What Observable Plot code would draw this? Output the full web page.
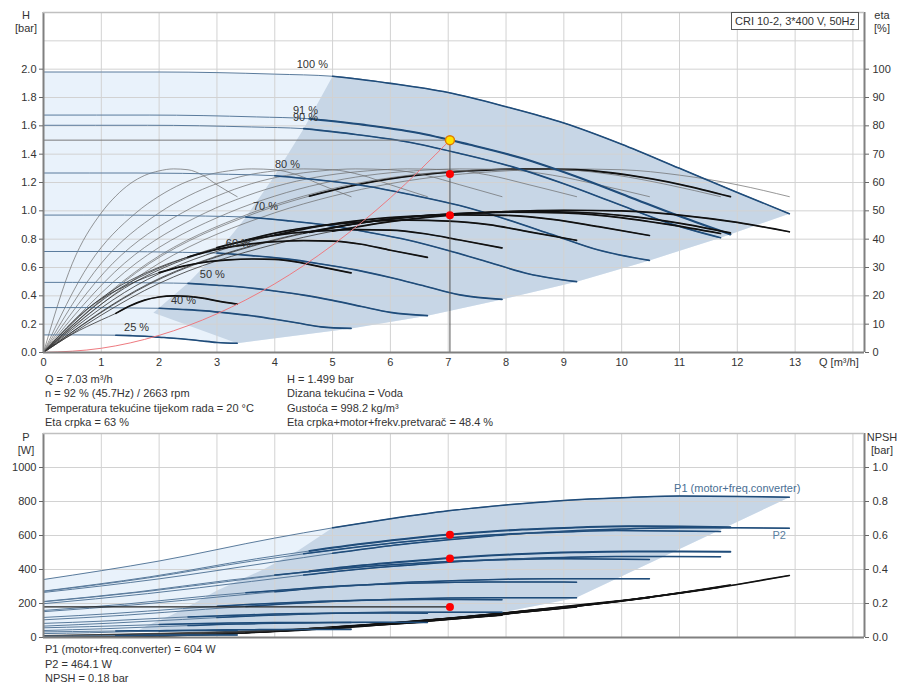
<!DOCTYPE html>
<html><head><meta charset="utf-8">
<script src="https://cdn.jsdelivr.net/npm/d3@7"></script>
<script src="https://cdn.jsdelivr.net/npm/@observablehq/plot@0.6"></script>
<style>
body{margin:0;background:#fff;}
#wrap{position:relative;width:900px;height:687px;font-family:"Liberation Sans",Arial,sans-serif;color:#333;font-size:11px;}
.abs{position:absolute;white-space:nowrap;line-height:13px;}
.c{text-align:center;}
</style></head><body><div id="wrap"></div>
<script>
// ---------- data ----------
// speed order: 100 %, 92 % (labelled 91 %), 90 %, 80 %, 70 %, 60 %, 50 %, 40 %, 25 %
const speedLabels = ["100 %","91 %","90 %","80 %","70 %","60 %","50 %","40 %","25 %"];
const labelQ = [4.65,4.53,4.53,4.22,3.84,3.37,2.92,2.42,1.61];
const labelH = [2.03,1.71,1.66,1.33,1.03,0.77,0.55,0.367,0.177];

const flowQ = [
 [0,2,4,5,6,7,8,9,10,11,12,12.9],
 [0,1.84,3.68,4.6,5.52,6.44,7.36,8.28,9.2,10.12,11.04,11.88],
 [0,1.8,3.6,4.5,5.4,6.3,7.2,8.1,9,9.9,10.8,11.71],
 [0,1.6,3.2,4,4.8,5.6,6.4,7.2,8,8.8,9.6,10.48],
 [0,1.4,2.8,3.5,4.2,4.9,5.6,6.3,7,7.7,8.4,9.22],
 [0,1.2,2.4,3,3.6,4.2,4.8,5.4,6,6.6,7.2,7.93],
 [0,1,2,2.5,3,3.5,4,4.5,5,5.5,6,6.64],
 [0,0.8,1.6,2,2.4,2.8,3.2,3.6,4,4.4,4.8,5.32],
 [0,0.5,1,1.25,1.5,1.75,2,2.25,2.5,2.75,3,3.35]
];
const headH = [
 [1.98,1.98,1.965,1.95,1.90,1.835,1.735,1.62,1.47,1.30,1.13,0.98],
 [1.676,1.676,1.663,1.650,1.608,1.553,1.468,1.371,1.244,1.100,0.956,0.834],
 [1.604,1.604,1.592,1.580,1.539,1.486,1.405,1.312,1.191,1.053,0.915,0.81],
 [1.267,1.267,1.258,1.248,1.216,1.174,1.110,1.037,0.941,0.832,0.723,0.65],
 [0.970,0.970,0.963,0.956,0.931,0.899,0.850,0.794,0.720,0.637,0.554,0.50],
 [0.713,0.713,0.707,0.702,0.684,0.661,0.625,0.583,0.529,0.468,0.407,0.375],
 [0.495,0.495,0.491,0.488,0.475,0.459,0.434,0.405,0.368,0.325,0.283,0.26],
 [0.317,0.317,0.314,0.312,0.304,0.294,0.278,0.259,0.235,0.208,0.181,0.17],
 [0.124,0.124,0.123,0.122,0.119,0.115,0.108,0.101,0.092,0.081,0.071,0.065]
];
const etaPump = [0,31.5,49.3,55.2,59.6,62.5,64.1,64.8,64.5,62.6,59.2,55];
const etaTotal = [
 [0,24.4,38.2,42.8,46.2,48.4,49.7,50.2,50.0,48.5,45.9,42.6],
 [0,24.2,37.9,42.4,45.8,48.0,49.2,49.8,49.5,48.1,45.5,42.2],
 [0,24.1,37.7,42.2,45.5,47.8,49.0,49.5,49.3,47.8,45.2,42.0],
 [0,23.6,37.0,41.4,44.7,46.9,48.1,48.6,48.4,47.0,44.4,41.3],
 [0,22.7,35.5,39.7,42.9,45.0,46.2,46.7,46.4,45.1,42.6,39.6],
 [0,21.1,33.0,37.0,39.9,41.9,42.9,43.4,43.2,41.9,39.7,36.9],
 [0,19.2,30.1,33.7,36.4,38.1,39.1,39.5,39.3,38.2,36.1,33.6],
 [0,16.1,25.1,28.2,30.4,31.9,32.7,33.0,32.9,31.9,30.2,28.1],
 [0,6.5,11.5,13.8,16.5,18.5,19.6,20.0,19.8,19.2,18.2,17.1]
];
const powerP1 = [
 [341,450,585,645,698,745,780,806,822,832,830,825],
 [273,357,463,509,551,587,614,635,647,655,653,649],
 [271,350,449,492,531,565,591,610,621,629,627,623],
 [212,267,337,367,394,418,436,450,458,463,462,459],
 [159,196,243,263,281,298,310,319,324,327,327,325],
 [118,141,170,183,195,205,213,218,222,224,223,222],
 [83,96,113,121,127,133,138,141,143,144,144,143],
 [57,64,72,76,80,83,85,87,88,88,88,88],
 [33,35,37,38,39,40,40,41,41,41,41,41]
];
const powerP2 = [
 [265,345,445,495,540,575,605,625,638,645,645,643],
 [210,273,351,390,425,452,475,491,501,506,506,505],
 [199,258,330,367,400,425,447,462,471,476,476,475],
 [152,193,244,269,293,310,326,336,343,346,346,345],
 [104,131,166,183,198,210,221,227,232,234,234,234],
 [67,85,106,117,127,134,141,145,148,149,149,149],
 [41,51,64,70,76,80,84,86,88,89,89,88],
 [23,28,35,38,41,43,45,46,47,47,47,47],
 [8,9,11,12,12,13,13,14,14,14,14,14]
];
const npshBar = [
 [0.012,0.025,0.045,0.061,0.085,0.113,0.146,0.182,0.218,0.26,0.312,0.365],
 [0.010,0.021,0.038,0.052,0.072,0.096,0.124,0.154,0.185,0.220,0.264,0.309],
 [0.010,0.020,0.036,0.049,0.069,0.092,0.118,0.147,0.177,0.211,0.253,0.296],
 [0.008,0.016,0.029,0.039,0.054,0.072,0.093,0.116,0.140,0.166,0.200,0.234],
 [0.006,0.012,0.022,0.030,0.042,0.055,0.072,0.089,0.107,0.127,0.153,0.179],
 [0.004,0.009,0.016,0.022,0.031,0.041,0.053,0.066,0.078,0.094,0.112,0.131],
 [0.003,0.006,0.011,0.015,0.021,0.028,0.037,0.046,0.055,0.065,0.078,0.091],
 [0.002,0.004,0.007,0.010,0.014,0.018,0.023,0.029,0.035,0.042,0.050,0.058],
 [0.001,0.002,0.003,0.004,0.005,0.007,0.009,0.011,0.014,0.016,0.020,0.023]
];
// operating-range boundaries
const minFlowQ = [1.9,2.5,3,3.5,4,4.5];
const minFlowH = [0.28,0.49,0.70,0.955,1.25,1.58];
const pEdgeQ = [9.2,7.96,6.64,5.32,3.35,1.6];
const pEdgeP = [233,150,95,62,38,35];
const pLeftQ = [1.8,2.2,2.6,3.0,3.8,4.4];
const pLeftP = [70,130,200,276,400,510];
// system curve and duty point
const systemQ = [0,1,2,3,4,5,6,7.03];
const systemH = [0,0.030,0.121,0.273,0.485,0.758,1.092,1.499];
const duty = {Q:7.03, H:1.499, etaPump:63, etaTotal:48.4, P1:604, P2:464.1, NPSH:0.18};
// ticks
const qTicks = [0,1,2,3,4,5,6,7,8,9,10,11,12,13];
const hTicks = [0,0.2,0.4,0.6,0.8,1.0,1.2,1.4,1.6,1.8,2.0];
const etaTicks = [0,10,20,30,40,50,60,70,80,90,100];
const pTicks = [0,200,400,600,800,1000];
const npshTicks = [0,0.2,0.4,0.6,0.8,1.0];

// ---------- helpers ----------
const rowsOf = (k, arr) => flowQ[k].map((q,i)=>({Q:q, v:arr[i], i}));
const last = (k, arr) => ({Q:flowQ[k][11], v:arr[11]});
const font = {fontFamily:"Liberation Sans, Arial, sans-serif", fontSize:"11px", color:"#333", background:"transparent", overflow:"visible"};
const blueThin = "#5a7b9c", blueThick = "#1f4c7a";
const gridXv = d3.range(1,15);

// ---------- top chart ----------
const light = [...rowsOf(0, headH[0])];
for (let k=1;k<8;k++) light.push(last(k, headH[k]));
light.push(...rowsOf(8, headH[8]).reverse());
const dark = rowsOf(0, headH[0]).filter(r=>r.i>=3);
for (let k=1;k<9;k++) dark.push(last(k, headH[k]));
minFlowQ.forEach((q,i)=>dark.push({Q:q, v:minFlowH[i]}));

const topMarks = [
  Plot.line(light, {x:"Q", y:"v", fill:"#e9f2fb", stroke:"none", curve:"linear"}),
  Plot.line(dark, {x:"Q", y:"v", fill:"#c7d6e6", stroke:"none", curve:"linear"}),
  Plot.gridX(gridXv, {stroke:"#d2d2d2", strokeOpacity:1}),
  Plot.gridY([0.2,0.4,0.6,0.8,1.0,1.2,1.4,1.6,1.8,2.0,2.2], {stroke:"#d2d2d2", strokeOpacity:1}),
];
for (let k=0;k<9;k++) {
  const pe = rowsOf(k, etaPump);
  topMarks.push(Plot.line(pe, {x:"Q", y:d=>d.v/50, stroke:"#6a6a6a", strokeWidth:0.7, curve:"monotone-x"}));
  if (k===1) topMarks.push(Plot.line(pe.filter(r=>r.i>=3), {x:"Q", y:d=>d.v/50, stroke:"#111", strokeWidth:1.8, curve:"monotone-x"}));
}
for (let k=0;k<9;k++) {
  const qh = rowsOf(k, headH[k]);
  topMarks.push(Plot.line(qh, {x:"Q", y:"v", stroke:blueThin, strokeWidth:1, curve:"monotone-x"}));
  topMarks.push(Plot.line(qh.filter(r=>r.i>=3), {x:"Q", y:"v", stroke:blueThick, strokeWidth:k===1?2.2:1.6, curve:"monotone-x"}));
}
for (let k=0;k<9;k++) {
  const et = rowsOf(k, etaTotal[k]);
  topMarks.push(Plot.line(et, {x:"Q", y:d=>d.v/50, stroke:"#333", strokeWidth:0.8, curve:"monotone-x"}));
  topMarks.push(Plot.line(et.filter(r=>r.i>=3), {x:"Q", y:d=>d.v/50, stroke:"#111", strokeWidth:1.7, curve:"monotone-x"}));
}
topMarks.push(
  Plot.line(systemQ.map((q,i)=>({Q:q, v:systemH[i]})), {x:"Q", y:"v", stroke:"#ee7a80", strokeWidth:1, curve:"monotone-x"}),
  Plot.ruleY([duty.H], {x1:0, x2:duty.Q, stroke:"#7a7a7a", strokeWidth:1}),
  Plot.ruleX([duty.Q], {y1:0, y2:duty.H, stroke:"#555", strokeWidth:1}),
  Plot.dot([duty.etaPump/50, duty.etaTotal/50], {x:()=>duty.Q, y:d=>d, r:4, fill:"#ff0000", stroke:"none"}),
  Plot.dot([duty], {x:"Q", y:"H", r:4.5, fill:"#ffe400", stroke:"#e07a00", strokeWidth:1.5}),
  Plot.text(speedLabels.map((t,k)=>({t, Q:labelQ[k], H:labelH[k]})), {x:"Q", y:"H", text:"t", fill:"#333", fontSize:11}),
  Plot.ruleX([0], {stroke:"#808080", strokeWidth:2}),
  Plot.ruleX([14.2], {stroke:"#808080", strokeWidth:2}),
  Plot.ruleY([0], {stroke:"#808080", strokeWidth:2}),
  Plot.ruleY([2.4], {stroke:"#c0c0c0", strokeWidth:1.5}),
  Plot.axisX(qTicks, {anchor:"bottom", label:null, tickSize:0, tickPadding:6, fontSize:11, tickFormat:d=>String(d)}),
  Plot.axisY(hTicks, {anchor:"left", label:null, tickSize:4, tickPadding:3, stroke:"#666", tickFormat:d=>d.toFixed(1), fontSize:11}),
  Plot.axisY(etaTicks.map(e=>e/50), {anchor:"right", label:null, tickSize:4, tickPadding:4, stroke:"#666", tickFormat:d=>String(Math.round(d*50)), fontSize:11})
);
const topPlot = Plot.plot({
  width:900, height:375, marginLeft:43, marginRight:36, marginTop:12, marginBottom:23,
  x:{domain:[0,14.2], label:null}, y:{domain:[0,2.4], label:null}, style:font, marks:topMarks
});

// ---------- bottom chart ----------
const lightB = [...rowsOf(0, powerP1[0])];
pEdgeQ.forEach((q,i)=>lightB.push({Q:q, v:pEdgeP[i]}));
lightB.push({Q:0, v:20});
const darkB = rowsOf(0, powerP1[0]).filter(r=>r.i>=3);
pEdgeQ.forEach((q,i)=>darkB.push({Q:q, v:pEdgeP[i]}));
pLeftQ.forEach((q,i)=>darkB.push({Q:q, v:pLeftP[i]}));

const botMarks = [
  Plot.line(lightB, {x:"Q", y:"v", fill:"#e9f2fb", stroke:"none", curve:"linear"}),
  Plot.line(darkB, {x:"Q", y:"v", fill:"#c7d6e6", stroke:"none", curve:"linear"}),
  Plot.gridX(gridXv, {stroke:"#d2d2d2", strokeOpacity:1}),
  Plot.gridY([200,400,600,800,1000], {stroke:"#d2d2d2", strokeOpacity:1}),
];
for (let k=8;k>=0;k--) {
  const n = rowsOf(k, npshBar[k]);
  botMarks.push(Plot.line(n, {x:"Q", y:d=>d.v*1000, stroke:"#333", strokeWidth:0.8, curve:"monotone-x"}));
  botMarks.push(Plot.line(n.filter(r=>r.i>=3), {x:"Q", y:d=>d.v*1000, stroke:"#111", strokeWidth:1.6, curve:"monotone-x"}));
}
for (let k=0;k<9;k++) {
  for (const arr of [powerP1[k], powerP2[k]]) {
    const p = rowsOf(k, arr);
    botMarks.push(Plot.line(p, {x:"Q", y:"v", stroke:blueThin, strokeWidth:1, curve:"monotone-x"}));
    botMarks.push(Plot.line(p.filter(r=>r.i>=3), {x:"Q", y:"v", stroke:blueThick, strokeWidth:k===1?2:1.5, curve:"monotone-x"}));
  }
}
botMarks.push(
  Plot.ruleY([duty.NPSH*1000], {x1:0, x2:duty.Q, stroke:"#222", strokeWidth:1.3}),
  Plot.dot([duty.P1, duty.P2, duty.NPSH*1000], {x:()=>duty.Q, y:d=>d, r:4, fill:"#ff0000", stroke:"none"}),
  Plot.text(["P1 (motor+freq.converter)"], {x:()=>13.09, y:()=>876, text:d=>d, textAnchor:"end", fill:"#4a6f94", fontSize:11}),
  Plot.text(["P2"], {x:()=>12.84, y:()=>600, text:d=>d, textAnchor:"end", fill:"#5a7ea0", fontSize:11}),
  Plot.ruleX([0], {stroke:"#808080", strokeWidth:2}),
  Plot.ruleX([14.2], {stroke:"#808080", strokeWidth:2}),
  Plot.ruleY([0], {stroke:"#808080", strokeWidth:2}),
  Plot.ruleY([1200], {stroke:"#c0c0c0", strokeWidth:1.5}),
  Plot.axisY(pTicks, {anchor:"left", label:null, tickSize:4, tickPadding:3, stroke:"#666", fontSize:11, tickFormat:d=>String(d)}),
  Plot.axisY(npshTicks.map(v=>v*1000), {anchor:"right", label:null, tickSize:4, tickPadding:4, stroke:"#666", tickFormat:d=>(d/1000).toFixed(1), fontSize:11})
);
const botPlot = Plot.plot({
  width:900, height:221, marginLeft:43, marginRight:36, marginTop:12, marginBottom:5,
  x:{domain:[0,14.2], axis:null, label:null}, y:{domain:[0,1200], label:null}, style:font, marks:botMarks
});

// ---------- layout ----------
const wrap = document.getElementById("wrap");
topPlot.style.position="absolute"; topPlot.style.left="0px"; topPlot.style.top="0px";
botPlot.style.position="absolute"; botPlot.style.left="0px"; botPlot.style.top="421px";
wrap.appendChild(topPlot); wrap.appendChild(botPlot);
function addText(html, left, top, cls="") {
  const d = document.createElement("div"); d.className="abs "+cls; d.innerHTML=html;
  d.style.left=left+"px"; d.style.top=top+"px"; wrap.appendChild(d); return d;
}
addText("H<br>[bar]", 6, 9, "c").style.width="40px";
addText("eta<br>[%]", 862, 9, "c").style.width="40px";
addText("Q [m³/h]", 819, 356);
const box = addText("CRI 10-2, 3*400 V, 50Hz", 731, 12);
Object.assign(box.style, {border:"1px solid #555", background:"#fff", padding:"1px 3px", lineHeight:"14px"});
addText("P<br>[W]", 6, 431, "c").style.width="40px";
addText("NPSH<br>[bar]", 860, 431, "c").style.width="44px";
const infoL = ["Q = 7.03 m³/h","n = 92 % (45.7Hz) / 2663 rpm","Temperatura tekućine tijekom rada = 20 °C","Eta crpka = 63 %"];
const infoR = ["H = 1.499 bar","Dizana tekućina = Voda","Gustoća = 998.2 kg/m³","Eta crpka+motor+frekv.pretvarač = 48.4 %"];
const infoB = ["P1 (motor+freq.converter) = 604 W","P2 = 464.1 W","NPSH = 0.18 bar"];
infoL.forEach((t,i)=>addText(t, 45, 373+i*14.3));
infoR.forEach((t,i)=>addText(t, 287, 373+i*14.3));
infoB.forEach((t,i)=>addText(t, 45, 643+i*14.5));
</script></body></html>
